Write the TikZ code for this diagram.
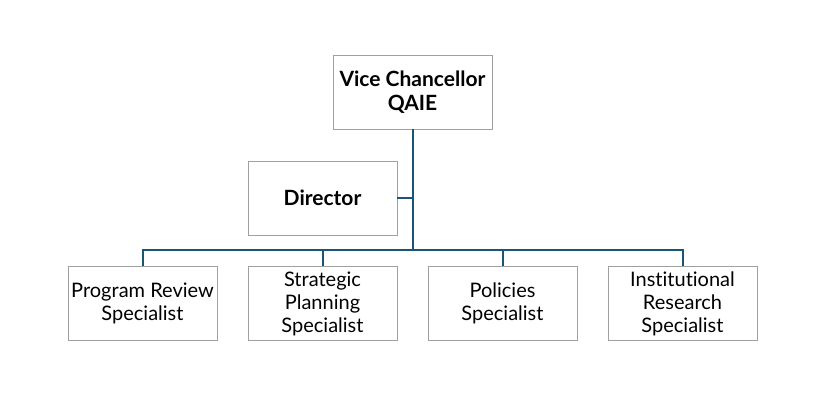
\documentclass[tikz,border=0pt]{standalone}
\usepackage{fontspec}
\setmainfont{Lato}[Ligatures={NoCommon,NoRare,NoContextual}]
\definecolor{linec}{HTML}{1B5576}
\definecolor{boxc}{HTML}{A0A0A0}
\begin{document}
\begin{tikzpicture}[x=1pt,y=-1pt,
  box/.style={draw=boxc,line width=0.8pt,minimum width=149pt,minimum height=74pt,align=center,inner sep=1pt,
    font=\fontsize{20}{23}\selectfont},
  hbox/.style={box,font=\bfseries\fontsize{21}{24}\selectfont},
  conn/.style={draw=linec,line width=2pt}]
\useasboundingbox (0,0) rectangle (834,403);
\node[hbox,minimum width=159pt] (vc) at (412.5,92) {Vice Chancellor\\QAIE};
\node[hbox] (dir) at (322.5,198) {Director};
\node[box] (b1) at (142.5,303.5) {Program Review\\Specialist};
\node[box] (b2) at (322.5,303.5) {Strategic\\Planning\\Specialist};
\node[box] (b3) at (502.5,303.5) {Policies\\Specialist};
\node[box] (b4) at (682.5,303.5) {Institutional\\Research\\Specialist};
\coordinate (hub) at (413,250);
\coordinate (dj) at (413,198);
\draw[conn] (vc.south -| hub) -- (hub);
\draw[conn] (dir.east) -- (dj);
\draw[conn] (b1.north) |- (hub) -| (b4.north);
\draw[conn] (b2.north) -- (b2.north |- hub);
\draw[conn] (b3.north) -- (b3.north |- hub);
\end{tikzpicture}
\end{document}
